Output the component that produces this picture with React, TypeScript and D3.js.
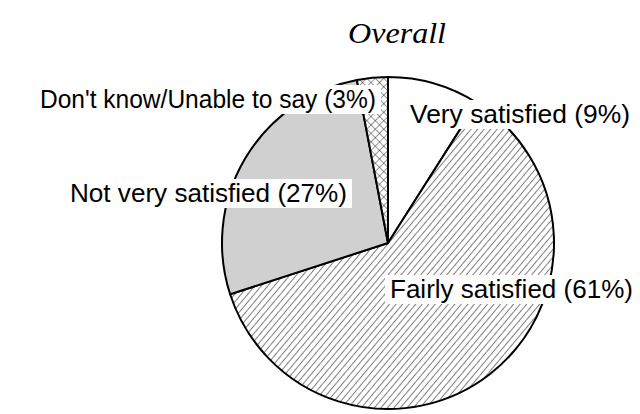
import React from "react";
import * as d3 from "d3";

const categories = ["Very satisfied", "Fairly satisfied", "Not very satisfied", "Don't know/Unable to say"];
const values = [9, 61, 27, 3];
const fills = ["#ffffff", "url(#hatch)", "#d0d0d0", "url(#cross)"];
// label anchor positions (text left x, baseline y) and rendered widths
const labelPos: [number, number][] = [
  [410, 123],
  [390, 298],
  [70, 202],
  [40, 108],
];
const labelWidths = [220, 243, 277, 336];

export default function App() {
  const W = 640, H = 414;
  const cx = 388, cy = 243, r = 166;
  const pie = d3.pie<number>().sort(null).value((d) => d)(values);
  const arc = d3.arc<d3.PieArcDatum<number>>().innerRadius(0).outerRadius(r);
  return (
    <svg width={W} height={H} style={{ position: "absolute", left: 0, top: 0 }}>
      <defs>
        <pattern id="hatch" patternUnits="userSpaceOnUse" width="5" height="5" patternTransform="rotate(40)">
          <rect width="5" height="5" fill="#fff" />
          <line x1="0" y1="0" x2="0" y2="5" stroke="#000" strokeWidth="1" />
        </pattern>
        <pattern id="cross" patternUnits="userSpaceOnUse" width="6" height="6" patternTransform="rotate(45)">
          <rect width="6" height="6" fill="#fff" />
          <line x1="0" y1="0" x2="0" y2="6" stroke="#000" strokeWidth="0.8" />
          <line x1="0" y1="0" x2="6" y2="0" stroke="#000" strokeWidth="0.8" />
        </pattern>
      </defs>
      <rect width={W} height={H} fill="#fff" />
      <text x={348} y={43} fontFamily="'Liberation Serif', serif" fontStyle="italic" fontSize={29}
        textLength={98} lengthAdjust="spacingAndGlyphs" fill="#000">
        Overall
      </text>
      <g transform={`translate(${cx},${cy})`}>
        {pie.map((p, i) => (
          <path key={i} d={arc(p) || ""} fill={fills[i]} stroke="#000" strokeWidth={2} strokeLinejoin="round" />
        ))}
      </g>
      {categories.map((c, i) => {
        const label = `${c} (${values[i]}%)`;
        const [x, y] = labelPos[i];
        const w = labelWidths[i];
        return (
          <g key={i}>
            <rect x={x - 5} y={y - 23} width={w + 10} height={29} fill="#fff" />
            <text x={x} y={y} fontFamily="'Liberation Sans', Arial, sans-serif" fontSize={25}
              textLength={w} lengthAdjust="spacingAndGlyphs" fill="#000">
              {label}
            </text>
          </g>
        );
      })}
    </svg>
  );
}
